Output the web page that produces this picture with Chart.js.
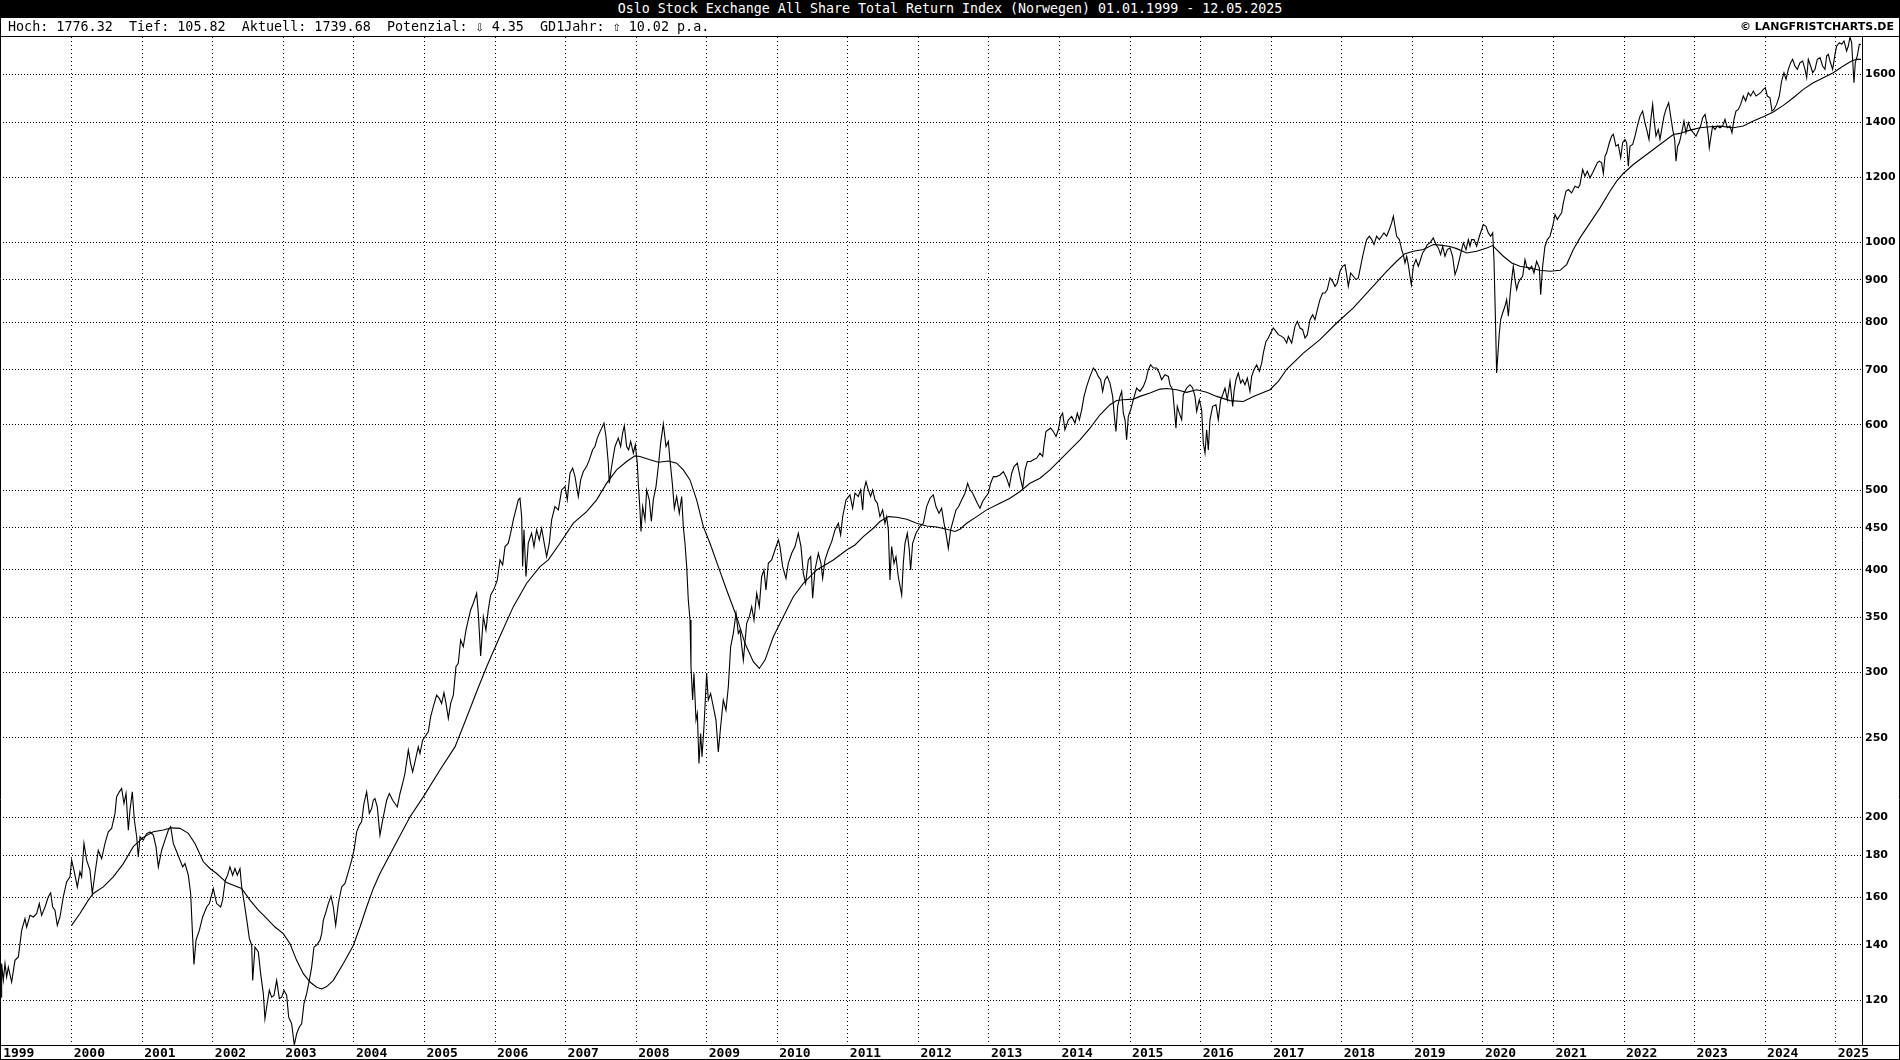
<!DOCTYPE html>
<html>
<head>
<meta charset="utf-8">
<script src="https://cdn.jsdelivr.net/npm/chart.js@4.4.1/dist/chart.umd.min.js"></script>
<style>
html,body{margin:0;padding:0;background:#fff;}
#wrap{position:relative;width:1900px;height:1060px;overflow:hidden;background:#fff;}
canvas{position:absolute;left:0;top:0;}
#title{position:absolute;left:0;top:0;width:1900px;height:18px;background:#000;color:#fff;font:13.3px/18px "DejaVu Sans Mono",monospace;text-align:center;white-space:pre;}
#stats{position:absolute;left:8px;top:18px;height:18px;font:13.4px/18px "DejaVu Sans Mono",monospace;color:#000;white-space:pre;}
#stats .arr{font-family:"DejaVu Sans",sans-serif;font-size:10px;display:inline-block;width:8px;text-align:center;}
#copy{position:absolute;right:6px;top:18px;height:18px;font:bold 11px/18px "DejaVu Sans",sans-serif;color:#000;white-space:pre;}
</style>
</head>
<body>
<div id="wrap">
<canvas id="c" width="1900" height="1060"></canvas>
<div id="title"></div>
<div id="stats"></div>
<div id="copy"></div>
</div>
<script>
const titleText = "Oslo Stock Exchange All Share Total Return Index (Norwegen) 01.01.1999 - 12.05.2025";
const statsText = "Hoch: 1776.32  Tief: 105.82  Aktuell: 1739.68  Potenzial: \u21E9 4.35  GD1Jahr: \u21E7 10.02 p.a.";
const copyText = "\u00A9 LANGFRISTCHARTS.DE";

const yearTicks = [1999,2000,2001,2002,2003,2004,2005,2006,2007,2008,2009,2010,2011,2012,2013,2014,2015,2016,2017,2018,2019,2020,2021,2022,2023,2024,2025];
const valueTicks = [120,140,160,180,200,250,300,350,400,450,500,600,700,800,900,1000,1200,1400,1600];
const xMin = 1998.984, xMax = 2025.373;
const yMin = 105.82, yMax = 1776.32;

// price (decimal year, index value)
const priceDates = [
1999.000,1999.007,1999.031,1999.055,1999.078,1999.102,1999.149,1999.196,1999.244,1999.291,1999.338,1999.362,1999.409,1999.456,1999.503,1999.541,1999.574,1999.622,1999.669,1999.702,1999.730,1999.763,1999.796,1999.834,1999.881,1999.928,1999.976,1999.999,
2000.032,2000.080,2000.117,2000.141,2000.174,2000.212,2000.259,2000.292,2000.330,2000.377,2000.425,2000.472,2000.519,2000.566,2000.614,2000.637,2000.675,2000.708,2000.741,2000.770,2000.803,2000.826,2000.859,2000.888,2000.921,2000.944,2000.968,
2001.015,2001.062,2001.110,2001.157,2001.195,2001.228,2001.275,2001.322,2001.369,2001.403,2001.440,2001.488,2001.535,2001.573,2001.606,2001.653,2001.686,2001.714,2001.733,2001.762,2001.809,2001.856,2001.913,2001.951,
2002.007,2002.054,2002.111,2002.139,2002.177,2002.210,2002.243,2002.281,2002.314,2002.347,2002.385,2002.409,2002.447,2002.489,2002.518,2002.551,2002.565,2002.598,2002.645,2002.678,2002.716,2002.739,2002.763,2002.801,2002.834,2002.867,2002.905,2002.943,2002.976,
2003.009,2003.047,2003.075,2003.117,2003.155,2003.188,2003.226,2003.259,2003.292,2003.330,2003.368,2003.401,2003.434,2003.472,2003.519,2003.543,2003.566,2003.604,2003.637,2003.675,2003.708,2003.741,2003.779,2003.826,2003.873,2003.921,2003.968,
2004.001,2004.039,2004.076,2004.109,2004.142,2004.180,2004.218,2004.251,2004.275,2004.298,2004.331,2004.369,2004.407,2004.464,2004.502,2004.549,2004.615,2004.653,2004.690,2004.723,2004.771,2004.804,2004.832,2004.865,2004.912,2004.936,2004.974,
2005.054,2005.087,2005.125,2005.172,2005.210,2005.243,2005.276,2005.305,2005.338,2005.371,2005.409,2005.446,2005.479,2005.512,2005.550,2005.588,2005.621,2005.654,2005.692,2005.739,2005.763,2005.796,2005.834,2005.871,2005.904,2005.938,2005.966,2005.999,
2006.032,2006.070,2006.108,2006.141,2006.188,2006.221,2006.259,2006.306,2006.330,2006.353,2006.377,2006.391,2006.410,2006.438,2006.471,2006.518,2006.552,2006.589,2006.627,2006.660,2006.693,2006.731,2006.769,2006.802,2006.849,2006.897,2006.944,2006.991,
2007.024,2007.062,2007.100,2007.133,2007.180,2007.213,2007.251,2007.298,2007.336,2007.383,2007.416,2007.449,2007.478,2007.511,2007.544,2007.572,2007.605,2007.619,2007.652,2007.700,2007.747,2007.780,2007.808,2007.832,2007.865,2007.893,2007.922,2007.960,2007.988,
2008.016,2008.030,2008.054,2008.068,2008.092,2008.125,2008.149,2008.186,2008.215,2008.243,2008.281,2008.314,2008.347,2008.385,2008.423,2008.456,2008.479,2008.512,2008.541,2008.574,2008.611,2008.645,2008.668,2008.692,2008.716,2008.739,2008.763,2008.777,2008.800,2008.819,2008.848,2008.867,2008.890,2008.914,2008.933,2008.961,2008.999,
2009.022,2009.055,2009.093,2009.131,2009.164,2009.197,2009.235,2009.273,2009.306,2009.339,2009.377,2009.415,2009.448,2009.471,2009.519,2009.566,2009.604,2009.637,2009.670,2009.708,2009.745,2009.778,2009.811,2009.840,2009.873,2009.920,2009.967,
2010.015,2010.038,2010.076,2010.123,2010.156,2010.204,2010.251,2010.298,2010.336,2010.369,2010.402,2010.440,2010.473,2010.501,2010.534,2010.582,2010.619,2010.643,2010.676,2010.723,2010.771,2010.818,2010.865,2010.898,2010.927,2010.974,
2011.030,2011.068,2011.101,2011.148,2011.182,2011.210,2011.229,2011.257,2011.290,2011.323,2011.351,2011.385,2011.418,2011.455,2011.493,2011.526,2011.550,2011.574,2011.597,2011.621,2011.654,2011.682,2011.715,2011.763,2011.786,2011.810,2011.843,2011.871,2011.890,2011.918,2011.966,
2012.022,2012.070,2012.117,2012.164,2012.211,2012.249,2012.292,2012.329,2012.363,2012.391,2012.424,2012.457,2012.495,2012.533,2012.570,2012.613,2012.660,2012.698,2012.731,2012.769,2012.802,2012.835,2012.873,2012.910,2012.958,2012.991,
2013.024,2013.062,2013.109,2013.156,2013.204,2013.251,2013.289,2013.322,2013.355,2013.402,2013.440,2013.478,2013.511,2013.544,2013.591,2013.629,2013.676,2013.723,2013.761,2013.780,2013.808,2013.841,2013.874,2013.912,2013.950,2013.983,
2014.016,2014.044,2014.077,2014.125,2014.172,2014.219,2014.252,2014.281,2014.314,2014.347,2014.385,2014.432,2014.479,2014.517,2014.550,2014.583,2014.611,2014.644,2014.677,2014.715,2014.753,2014.777,2014.800,2014.824,2014.857,2014.881,2014.904,2014.928,2014.951,2014.975,
2015.008,2015.046,2015.093,2015.140,2015.188,2015.225,2015.258,2015.291,2015.329,2015.376,2015.414,2015.447,2015.495,2015.542,2015.565,2015.603,2015.636,2015.650,2015.669,2015.698,2015.731,2015.754,2015.802,2015.849,2015.887,2015.920,2015.944,2015.981,
2016.014,2016.038,2016.062,2016.085,2016.109,2016.132,2016.170,2016.217,2016.250,2016.284,2016.312,2016.345,2016.378,2016.416,2016.454,2016.473,2016.501,2016.534,2016.567,2016.595,2016.628,2016.662,2016.699,2016.723,2016.756,2016.794,2016.832,2016.865,2016.888,2016.926,2016.959,2016.992,
2017.030,2017.068,2017.101,2017.148,2017.181,2017.219,2017.243,2017.290,2017.337,2017.370,2017.408,2017.446,2017.479,2017.512,2017.550,2017.587,2017.620,2017.654,2017.691,2017.729,2017.762,2017.795,2017.833,2017.871,2017.904,2017.937,2017.975,
2018.013,2018.046,2018.069,2018.093,2018.126,2018.164,2018.202,2018.235,2018.258,2018.296,2018.329,2018.353,2018.391,2018.424,2018.457,2018.494,2018.532,2018.565,2018.598,2018.636,2018.674,2018.707,2018.731,2018.754,2018.778,2018.816,2018.849,2018.872,2018.896,2018.920,2018.943,2018.967,2018.986,
2019.014,2019.052,2019.085,2019.109,2019.146,2019.179,2019.213,2019.250,2019.297,2019.335,2019.368,2019.401,2019.430,2019.463,2019.496,2019.534,2019.571,2019.605,2019.638,2019.666,2019.699,2019.723,2019.761,2019.794,2019.817,2019.841,2019.874,2019.912,2019.950,2019.983,
2020.006,2020.044,2020.077,2020.110,2020.139,2020.157,2020.176,2020.195,2020.214,2020.233,2020.252,2020.280,2020.313,2020.337,2020.361,2020.384,2020.408,2020.431,2020.455,2020.479,2020.502,2020.526,2020.564,2020.597,2020.620,2020.658,2020.691,2020.724,2020.762,2020.800,2020.819,2020.847,2020.880,2020.913,2020.951,2020.989,
2021.022,2021.055,2021.083,2021.116,2021.140,2021.178,2021.211,2021.258,2021.305,2021.352,2021.376,2021.414,2021.447,2021.480,2021.518,2021.556,2021.589,2021.622,2021.650,2021.683,2021.707,2021.731,2021.754,2021.792,2021.825,2021.849,2021.886,2021.919,2021.953,2021.981,
2022.014,2022.038,2022.061,2022.085,2022.123,2022.156,2022.189,2022.227,2022.264,2022.297,2022.321,2022.354,2022.378,2022.406,2022.425,2022.453,2022.486,2022.510,2022.534,2022.567,2022.595,2022.633,2022.661,2022.690,2022.718,2022.737,2022.760,2022.784,2022.817,2022.850,2022.878,2022.912,2022.945,2022.982,
2023.020,2023.053,2023.086,2023.115,2023.148,2023.171,2023.195,2023.209,2023.233,2023.256,2023.289,2023.323,2023.360,2023.398,2023.431,2023.464,2023.502,2023.530,2023.559,2023.587,2023.620,2023.653,2023.691,2023.724,2023.762,2023.795,2023.833,2023.871,2023.904,2023.937,2023.974,
2024.003,2024.031,2024.069,2024.097,2024.125,2024.163,2024.201,2024.234,2024.267,2024.296,2024.329,2024.362,2024.390,2024.423,2024.456,2024.494,2024.532,2024.565,2024.589,2024.612,2024.645,2024.674,2024.707,2024.740,2024.778,2024.815,2024.848,2024.872,2024.896,2024.919,2024.957,2024.990,
2025.014,2025.052,2025.085,2025.118,2025.155,2025.179,2025.203,2025.226,2025.240,2025.259,2025.278,2025.306,2025.335,2025.359
];
const priceValues = [
121.0,132.9,126.8,132.9,128.0,131.6,126.2,134.1,135.4,145.8,150.7,147.2,152.1,151.4,152.8,157.2,152.1,155.7,160.2,162.0,155.7,154.3,147.9,151.4,160.2,167.0,169.4,177.5,
172.6,164.7,171.8,169.4,186.0,177.5,172.6,161.7,171.0,182.5,178.3,186.0,192.1,194.0,202.3,212.0,214.9,216.9,208.0,213.9,193.0,204.2,214.9,198.6,189.5,179.1,189.5,
187.7,191.2,192.1,190.4,184.2,174.2,182.5,187.7,193.0,194.9,186.0,181.7,177.5,174.2,175.8,170.2,161.7,143.2,132.6,141.9,145.8,151.4,155.7,157.2,
163.9,157.2,155.7,158.7,167.8,170.2,174.2,170.2,173.4,170.2,173.4,164.7,157.2,148.6,142.5,139.9,126.8,139.2,137.3,129.2,122.2,113.9,117.7,123.3,121.0,121.6,126.8,120.5,121.0,
123.3,121.6,114.4,112.3,105.82,109.2,111.3,112.3,118.8,122.2,126.8,131.6,139.2,139.9,141.9,144.5,150.0,153.6,157.2,160.5,155.7,147.9,157.2,164.7,166.3,171.8,177.5,
182.5,192.1,195.7,197.6,208.0,214.9,202.3,205.1,209.9,210.9,206.1,190.4,198.5,209.9,213.9,209.9,206.0,213.9,220.0,226.2,241.5,232.6,227.3,233.7,243.7,239.2,248.3,
254.2,265.1,272.7,281.7,279.1,275.2,283.6,275.2,263.9,275.2,281.7,305.0,307.9,328.6,322.5,337.9,347.6,357.5,364.2,374.5,354.1,314.2,350.8,337.9,357.5,372.8,376.3,381.6,
388.8,411.2,405.5,426.8,430.9,443.1,460.0,477.4,486.4,488.7,464.2,403.6,447.3,392.5,430.9,443.1,426.8,447.3,434.9,449.3,432.9,415.1,430.9,460.0,477.4,473.0,500.2,504.9,
486.4,524.1,531.5,519.3,491.0,514.4,526.6,534.0,544.1,559.6,564.8,578.2,586.3,594.6,602.9,580.8,539.0,509.7,534.0,564.8,578.2,564.8,586.3,598.5,564.8,559.6,572.8,554.3,567.4,
539.0,509.7,473.0,445.2,477.4,460.0,500.2,486.4,457.8,486.4,504.9,534.0,570.1,601.8,564.8,572.8,544.1,509.7,475.2,491.0,468.5,491.0,451.4,430.9,403.6,367.6,347.6,305.0,277.8,299.4,262.7,267.6,232.6,253.0,237.0,257.8,299.4,
277.8,283.0,272.7,262.7,240.3,257.8,277.8,270.1,288.4,322.5,334.8,354.1,334.8,337.9,310.7,344.3,350.8,360.8,347.5,374.5,360.8,392.3,399.8,378.0,407.3,411.1,422.8,
434.9,426.8,403.5,390.5,407.3,418.9,426.8,443.0,426.8,396.1,385.1,411.1,415.0,369.3,399.8,418.9,407.3,390.5,411.1,422.8,432.8,447.2,455.6,441.0,464.2,486.4,
493.3,475.2,495.6,491.0,500.3,473.0,500.3,512.0,500.3,491.0,500.3,486.4,481.9,464.2,473.0,455.6,464.2,447.2,388.7,426.8,407.3,415.0,392.3,372.7,407.3,430.8,443.0,422.8,399.8,430.8,443.0,
451.4,455.6,477.4,488.7,493.3,477.4,468.6,475.2,455.6,443.0,424.8,447.2,459.9,473.0,477.4,486.4,495.6,509.6,500.3,495.6,488.7,481.9,475.2,484.2,491.0,495.6,
509.6,519.2,519.2,521.6,526.5,516.8,504.9,524.1,534.0,539.0,519.2,502.6,529.0,541.5,541.5,544.1,546.6,554.3,549.2,567.4,589.0,591.8,594.6,589.0,580.9,591.8,
614.4,620.1,591.8,608.6,614.4,603.0,620.1,608.6,625.9,649.8,668.2,687.2,703.5,696.9,687.2,680.9,659.0,680.9,687.2,674.5,649.8,614.4,589.0,631.9,649.8,659.0,620.1,608.6,575.5,614.4,
625.9,643.8,665.2,659.0,668.2,680.9,700.2,710.1,703.5,703.5,693.7,680.9,690.4,687.2,671.4,662.0,614.4,594.6,631.9,620.1,608.6,652.9,665.2,671.4,665.2,649.8,623.0,643.8,
625.9,570.1,554.3,591.8,559.5,608.6,631.9,634.8,608.6,643.8,652.7,665.1,643.7,677.6,631.8,658.9,680.8,693.6,674.5,680.8,671.3,684.0,658.9,687.2,700.1,710.0,696.9,713.3,733.6,757.9,765.1,775.9,
786.8,779.5,772.3,768.6,765.1,754.4,768.6,754.4,790.5,801.6,786.8,783.2,765.1,772.3,805.4,816.7,805.4,828.3,851.8,867.8,867.8,876.0,905.1,896.7,884.2,892.5,922.2,
935.2,939.6,913.6,884.2,917.9,909.4,900.9,905.1,926.5,961.8,989.1,1007.7,1017.2,1007.7,993.8,1017.2,1007.7,1017.2,1026.8,1017.2,1036.4,1055.9,1075.8,1046.0,1017.2,1007.7,979.9,966.3,944.0,961.8,939.6,909.4,888.4,
935.2,952.8,935.2,948.4,970.8,979.9,993.8,998.4,1012.5,993.8,984.5,966.3,989.1,961.8,979.9,984.5,961.8,913.6,930.9,952.8,979.9,998.4,979.9,1007.7,989.1,1007.7,1007.7,989.1,1017.2,1036.4,
1050.9,1046.0,1026.8,1017.2,1026.8,952.8,820.6,693.6,733.6,775.9,805.4,820.6,836.1,851.8,813.0,859.8,900.9,935.2,900.9,876.0,892.5,900.9,909.4,952.8,935.2,926.5,935.2,917.9,948.4,930.9,863.8,935.2,989.1,1007.7,1017.2,1046.0,
1080.8,1065.8,1075.8,1085.9,1116.7,1153.8,1159.3,1148.4,1170.2,1164.7,1175.6,1226.1,1203.3,1220.4,1197.7,1214.7,1231.8,1249.2,1255.1,1249.2,1212.5,1272.7,1284.6,1321.2,1346.1,1352.4,1308.9,1315.0,1266.9,1321.2,
1333.6,1321.2,1237.6,1308.9,1315.0,1346.1,1384.4,1423.7,1443.8,1397.4,1371.5,1333.6,1403.9,1471.0,1410.4,1346.1,1371.5,1333.6,1371.5,1423.7,1450.5,1477.9,1423.7,1371.5,1333.6,1255.1,1308.9,1321.2,1358.7,1403.9,1358.7,1397.4,1371.5,1358.7,
1346.1,1365.1,1384.4,1417.1,1430.4,1397.4,1346.1,1302.8,1346.1,1384.4,1371.5,1384.4,1377.9,1384.4,1410.4,1377.9,1384.4,1358.7,1410.4,1443.8,1450.5,1471.0,1505.8,1484.9,1519.9,1505.8,1527.0,1505.8,1512.9,1519.9,1534.2,
1541.4,1505.8,1498.7,1443.8,1450.5,1471.0,1505.8,1570.4,1607.6,1577.8,1622.6,1653.2,1668.7,1637.8,1622.6,1653.2,1661.0,1622.6,1585.1,1668.7,1637.8,1607.6,1622.6,1668.7,1676.5,1637.8,1622.6,1684.4,1692.3,1661.0,1622.6,1692.3,
1732.2,1748.5,1740.4,1756.7,1708.2,1732.2,1776.32,1748.5,1668.7,1563.1,1653.2,1684.4,1740.4,1739.68
];

// GD 1 Jahr (one-year moving average line)
const maDates = [
1999.999,2000.117,2000.236,2000.306,2000.448,2000.590,2000.732,2000.873,2001.015,2001.157,2001.298,2001.417,2001.535,2001.653,2001.747,2001.866,2001.960,
2002.054,2002.196,2002.291,2002.409,2002.527,2002.645,2002.763,2002.881,2002.999,2003.094,2003.188,2003.283,2003.377,2003.472,2003.543,2003.614,2003.708,2003.850,2003.991,
2004.086,2004.180,2004.275,2004.369,2004.629,2004.794,2004.983,2005.219,2005.432,2005.574,2005.739,2005.881,2006.046,2006.259,2006.448,2006.637,2006.755,2006.920,
2007.109,2007.298,2007.440,2007.582,2007.723,2007.865,2007.983,2008.054,2008.196,2008.314,2008.456,2008.574,2008.668,2008.763,2008.857,2008.952,
2009.046,2009.164,2009.282,2009.424,2009.542,2009.660,2009.745,2009.826,2009.944,2010.085,2010.227,2010.369,2010.558,2010.794,2010.983,
2011.101,2011.219,2011.361,2011.455,2011.574,2011.692,2011.834,2011.975,2012.117,2012.259,2012.400,2012.518,2012.589,2012.684,2012.826,2012.967,
2013.156,2013.298,2013.440,2013.581,2013.723,2013.865,2014.007,2014.148,2014.290,2014.432,2014.574,2014.715,2014.810,2014.904,
2015.046,2015.140,2015.282,2015.424,2015.518,2015.660,2015.802,2015.944,2016.085,2016.227,2016.416,2016.605,2016.747,2016.983,
2017.101,2017.219,2017.455,2017.691,2017.928,2018.164,2018.400,2018.636,2018.778,2018.896,2019.014,2019.156,2019.297,2019.392,2019.534,2019.628,2019.770,2019.912,
2020.054,2020.139,2020.195,2020.290,2020.408,2020.526,2020.668,2020.809,2020.951,2021.093,2021.187,2021.282,2021.376,2021.518,2021.660,2021.801,2021.896,2021.990,
2022.132,2022.321,2022.510,2022.699,2022.793,2022.935,2023.077,2023.218,2023.360,2023.549,2023.691,2023.833,2023.974,
2024.116,2024.258,2024.400,2024.541,2024.683,2024.825,2024.966,2025.108,2025.226,2025.297,2025.359
];
const maValues = [
147.9,152.9,158.7,161.7,164.7,169.4,175.8,184.3,189.2,192.2,193.1,194.3,194.0,191.3,186.0,176.7,173.4,
171.0,166.7,165.5,164.0,158.7,154.3,150.8,147.2,144.5,140.5,134.1,129.2,126.2,124.4,123.8,124.6,126.8,132.9,139.8,
147.2,155.7,164.0,171.0,188.5,200.3,211.9,228.4,243.7,261.4,284.4,305.0,328.6,360.8,385.2,403.6,411.2,430.9,
455.7,470.7,486.4,509.7,529.0,541.5,550.2,549.2,544.1,540.5,542.4,539.0,529.0,514.4,486.4,451.4,
430.9,403.6,378.0,350.8,325.6,309.3,303.5,310.7,331.6,350.8,371.0,385.1,399.8,411.1,422.8,
428.8,438.9,449.3,457.8,464.2,463.3,460.7,455.6,452.1,450.8,448.1,445.2,448.1,455.6,464.2,473.0,
481.9,488.7,498.0,509.6,516.8,529.0,544.1,559.5,575.5,594.6,617.2,634.8,642.5,643.8,
644.9,649.8,655.9,663.2,664.4,662.0,657.2,662.0,657.2,649.8,642.2,640.7,649.8,662.0,
677.6,701.1,733.6,761.5,797.9,832.2,876.0,922.2,948.4,968.9,975.4,979.9,993.8,992.1,988.2,982.5,970.8,975.4,
984.5,991.0,979.9,961.8,944.0,935.2,930.9,924.7,922.2,924.7,939.6,979.9,1012.5,1055.9,1101.2,1153.9,1186.6,1212.5,
1243.3,1278.7,1315.0,1352.4,1356.3,1368.9,1377.9,1381.8,1384.4,1377.9,1384.4,1403.9,1421.1,
1439.8,1467.0,1498.7,1534.2,1563.1,1585.1,1607.6,1637.8,1661.0,1668.7,1668.7
];

document.getElementById('title').textContent = titleText;
(function () {
  // stats row: arrows rendered with DejaVu Sans, which has the hollow arrow glyphs
  const el = document.getElementById('stats');
  statsText.split(/([\u21E7\u21E9])/).forEach(part => {
    if (!part) return;
    if (part === '\u21E7' || part === '\u21E9') {
      const s = document.createElement('span');
      s.className = 'arr';
      s.textContent = part;
      el.appendChild(s);
    } else {
      el.appendChild(document.createTextNode(part));
    }
  });
})();
document.getElementById('copy').textContent = copyText;

const priceData = priceDates.map((t, i) => ({x: t, y: priceValues[i]}));
const maData = maDates.map((t, i) => ({x: t, y: maValues[i]}));

const framePlugin = {
  id: 'frame',
  afterDraw(chart) {
    const c = chart.ctx, a = chart.chartArea;
    const W = chart.width, H = chart.height;
    c.save();
    c.strokeStyle = '#000';
    c.lineWidth = 1;
    c.setLineDash([]);
    c.beginPath();
    c.moveTo(0, 36.5); c.lineTo(W, 36.5);
    c.moveTo(0, a.bottom + 0.5); c.lineTo(W, a.bottom + 0.5);
    c.moveTo(a.right + 0.5, 36); c.lineTo(a.right + 0.5, a.bottom);
    c.moveTo(0.5, 18); c.lineTo(0.5, H);
    c.moveTo(W - 0.5, 18); c.lineTo(W - 0.5, H);
    c.moveTo(0, H - 0.5); c.lineTo(W, H - 0.5);
    c.stroke();
    c.restore();
  }
};

new Chart(document.getElementById('c').getContext('2d'), {
  type: 'line',
  data: {
    datasets: [
      {label: 'Index', data: priceData, borderColor: '#000', borderWidth: 1.1, pointRadius: 0, tension: 0, fill: false},
      {label: 'GD1Jahr', data: maData, borderColor: '#000', borderWidth: 1.1, pointRadius: 0, tension: 0, fill: false}
    ]
  },
  options: {
    responsive: false,
    devicePixelRatio: 1,
    animation: false,
    parsing: true,
    layout: {padding: {top: 37, left: 0, right: 0, bottom: 0}},
    plugins: {legend: {display: false}, tooltip: {enabled: false}, title: {display: false}},
    scales: {
      x: {
        type: 'linear', min: xMin, max: xMax, bounds: 'data',
        afterBuildTicks: s => { s.ticks = yearTicks.map(v => ({value: v})); },
        afterFit: s => { s.height = 15; },
        grid: {
          color: ctx => (ctx.tick && ctx.tick.value === 1999) ? 'rgba(0,0,0,0)' : '#000',
          lineWidth: 1, drawTicks: false, tickLength: 0
        },
        border: {display: false, dash: [1, 3]},
        ticks: {
          align: 'start', color: '#000', padding: 1, labelOffset: 2,
          autoSkip: false, maxRotation: 0, minRotation: 0,
          font: {family: '"DejaVu Sans Mono", monospace', size: 13, weight: 'bold'},
          callback: v => String(v)
        }
      },
      y: {
        type: 'logarithmic', position: 'right', min: yMin, max: yMax, bounds: 'data',
        afterBuildTicks: s => { s.ticks = valueTicks.map(v => ({value: v})); },
        afterFit: s => { s.width = 38; },
        grid: {color: '#000', lineWidth: 1, drawTicks: false, tickLength: 0},
        border: {display: false, dash: [1, 2]},
        ticks: {
          color: '#000', padding: 3, autoSkip: false,
          font: {family: '"DejaVu Sans", sans-serif', size: 11, weight: 'bold'},
          callback: v => String(v)
        }
      }
    }
  },
  plugins: [framePlugin]
});
</script>
</body>
</html>
